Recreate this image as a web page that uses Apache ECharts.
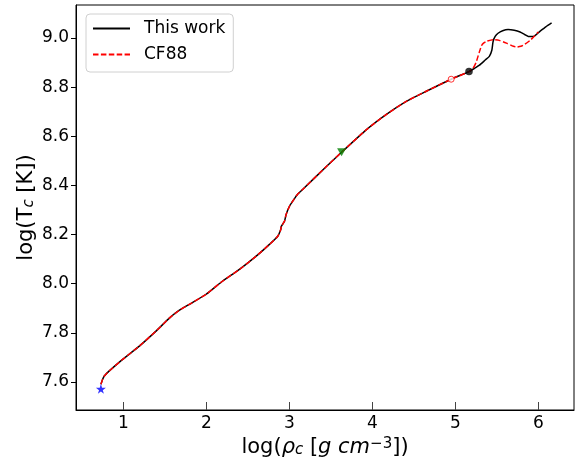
<!doctype html>
<html>
<head>
<meta charset="UTF-8">
<title>log Tc vs log rho_c</title>
<script src="https://cdn.jsdelivr.net/npm/echarts@6/dist/echarts.min.js"></script>
<style>
  html, body { margin: 0; padding: 0; background: #fff; }
  #chart { width: 581px; height: 465px; }
</style>
</head>
<body>
<div id="chart"></div>
<script>
  // shared track (both models agree up to the filled dot)
  var sharedRho = [0.731, 0.75, 0.771, 0.831, 0.992, 1.193, 1.394, 1.555, 1.676, 1.796, 1.998, 2.198, 2.399, 2.601, 2.761,
                   2.861, 2.895, 2.905, 2.942, 2.962, 3.002, 3.05, 3.10, 3.16, 3.45, 3.63, 3.93, 4.17, 4.41, 4.65,
                   4.95, 5.165];
  var sharedT   = [7.591, 7.610, 7.624, 7.645, 7.692, 7.746, 7.807, 7.860, 7.892, 7.916, 7.957, 8.011, 8.058, 8.112, 8.160,
                   8.193, 8.218, 8.234, 8.254, 8.282, 8.315, 8.340, 8.364, 8.383, 8.478, 8.535, 8.627, 8.689, 8.742, 8.783,
                   8.832, 8.863];

  // this work after the filled dot
  var workTailRho = [5.23, 5.29, 5.36, 5.41, 5.44, 5.455, 5.48, 5.515, 5.57, 5.636, 5.71, 5.78, 5.84, 5.88, 5.94, 6.02, 6.09, 6.16];
  var workTailT   = [8.876, 8.889, 8.910, 8.925, 8.950, 8.985, 9.006, 9.019, 9.029, 9.034, 9.031, 9.024, 9.013, 9.006, 9.006, 9.027, 9.045, 9.061];

  // CF88 after the filled dot
  var cf88TailRho = [5.21, 5.25, 5.286, 5.315, 5.34, 5.375, 5.455, 5.53, 5.616, 5.70, 5.737, 5.79, 5.837, 5.90, 5.94, 6.00];
  var cf88TailT   = [8.875, 8.900, 8.939, 8.968, 8.979, 8.986, 8.993, 8.990, 8.979, 8.966, 8.963, 8.966, 8.974, 8.990, 9.003, 9.024];

  // markers: star, triangle, open circle, filled circle
  var markerRho = [0.73, 3.63, 4.95, 5.165];
  var markerT   = [7.572, 8.535, 8.832, 8.863];

  var xTicks = [1, 2, 3, 4, 5, 6];
  var yTicks = [7.6, 7.8, 8.0, 8.2, 8.4, 8.6, 8.8, 9.0];

  function pairs(xs, ys) {
    var out = [];
    for (var i = 0; i < xs.length; i++) {
      out.push([xs[i], ys[i]]);
    }
    return out;
  }

  var workData = pairs(sharedRho, sharedT).concat(pairs(workTailRho, workTailT));
  var cf88Data = pairs(sharedRho, sharedT).concat(pairs(cf88TailRho, cf88TailT));

  var FONT = 'DejaVu Sans';
  var starPath = 'path://M50,0 L61,35 L98,35 L68,57 L79,91 L50,70 L21,91 L32,57 L2,35 L39,35 Z';

  var chart = echarts.init(document.getElementById('chart'), null, { renderer: 'canvas' });

  var option = {
    animation: false,
    backgroundColor: '#fff',
    grid: {
      left: 76, right: 7, top: 5, bottom: 55,
      show: true, borderColor: '#000', borderWidth: 1, backgroundColor: 'transparent'
    },
    legend: {
      orient: 'vertical',
      left: 86, top: 14,
      padding: [6, 8, 9, 6],
      itemWidth: 37, itemHeight: 14, itemGap: 9,
      itemStyle: { opacity: 0 },
      backgroundColor: 'rgba(255,255,255,0.8)',
      borderColor: '#d0d0d0', borderWidth: 1, borderRadius: 4,
      data: ['This work', 'CF88'],
      textStyle: { fontFamily: FONT, fontSize: 17, color: '#000', lineHeight: 17, padding: [0, 0, 0, 9] }
    },
    xAxis: {
      type: 'value',
      min: 0.43, max: 6.43,
      name: 'log({it|ρ}{sub|c} [{it|g cm}{sup|−3}])',
      nameLocation: 'middle',
      nameGap: 27,
      nameMoveOverlap: false,
      nameTextStyle: {
        fontFamily: FONT, fontSize: 21, color: '#000',
        rich: {
          sub: { fontFamily: FONT, fontSize: 15, fontStyle: 'italic', color: '#000', verticalAlign: 'bottom', lineHeight: 10 },
          it: { fontFamily: FONT, fontSize: 21, fontStyle: 'italic', color: '#000' },
          sup: { fontFamily: FONT, fontSize: 15, color: '#000', verticalAlign: 'top', lineHeight: 8 }
        }
      },
      splitLine: { show: false },
      axisLine: { show: true, onZero: false, lineStyle: { color: '#000', width: 1 } },
      axisTick: { show: true, inside: true, length: 8, customValues: xTicks, lineStyle: { color: '#444', width: 1 } },
      axisLabel: {
        customValues: xTicks, margin: 5,
        fontFamily: FONT, fontSize: 17, color: '#000',
        formatter: function (v) { return String(v); }
      }
    },
    yAxis: {
      type: 'value',
      min: 7.486, max: 9.134,
      name: 'log(T{sub|c} [K])',
      nameLocation: 'middle',
      nameGap: 39,
      nameMoveOverlap: false,
      nameTextStyle: {
        fontFamily: FONT, fontSize: 21, color: '#000',
        rich: {
          sub: { fontFamily: FONT, fontSize: 15, fontStyle: 'italic', color: '#000', verticalAlign: 'bottom', lineHeight: 10 }
        }
      },
      splitLine: { show: false },
      axisLine: { show: true, onZero: false, lineStyle: { color: '#000', width: 1 } },
      axisTick: { show: true, inside: false, length: 5, customValues: yTicks, lineStyle: { color: '#000', width: 1 } },
      axisLabel: {
        customValues: yTicks, margin: 7,
        fontFamily: FONT, fontSize: 17, color: '#000',
        formatter: function (v) { return v.toFixed(1); }
      }
    },
    series: [{
      name: 'This work',
      type: 'line',
      data: workData,
      symbol: 'none',
      smooth: 0.2,
      lineStyle: { color: '#000', width: 1.5 },
      itemStyle: { color: '#000' },
      z: 2
    }, {
      name: 'CF88',
      type: 'line',
      data: cf88Data,
      symbol: 'none',
      smooth: 0.2,
      lineStyle: { color: '#ff0000', width: 1.5, type: [5.5, 2.4] },
      itemStyle: { color: '#ff0000' },
      z: 3
    }, {
      type: 'scatter',
      data: [[markerRho[0], markerT[0]]],
      symbol: starPath, symbolSize: 10,
      itemStyle: { color: '#0000ff' },
      z: 5
    }, {
      type: 'scatter',
      data: [[markerRho[1], markerT[1]]],
      symbol: 'triangle', symbolRotate: 180, symbolSize: [9, 8],
      itemStyle: { color: '#008000' },
      z: 5
    }, {
      type: 'scatter',
      data: [[markerRho[2], markerT[2]]],
      symbol: 'circle', symbolSize: 6,
      itemStyle: { color: '#fff', borderColor: '#ff0000', borderWidth: 1 },
      z: 5
    }, {
      type: 'scatter',
      data: [[markerRho[3], markerT[3]]],
      symbol: 'circle', symbolSize: 7.5,
      itemStyle: { color: '#000' },
      z: 5
    }]
  };

  chart.setOption(option);
</script>
</body>
</html>
